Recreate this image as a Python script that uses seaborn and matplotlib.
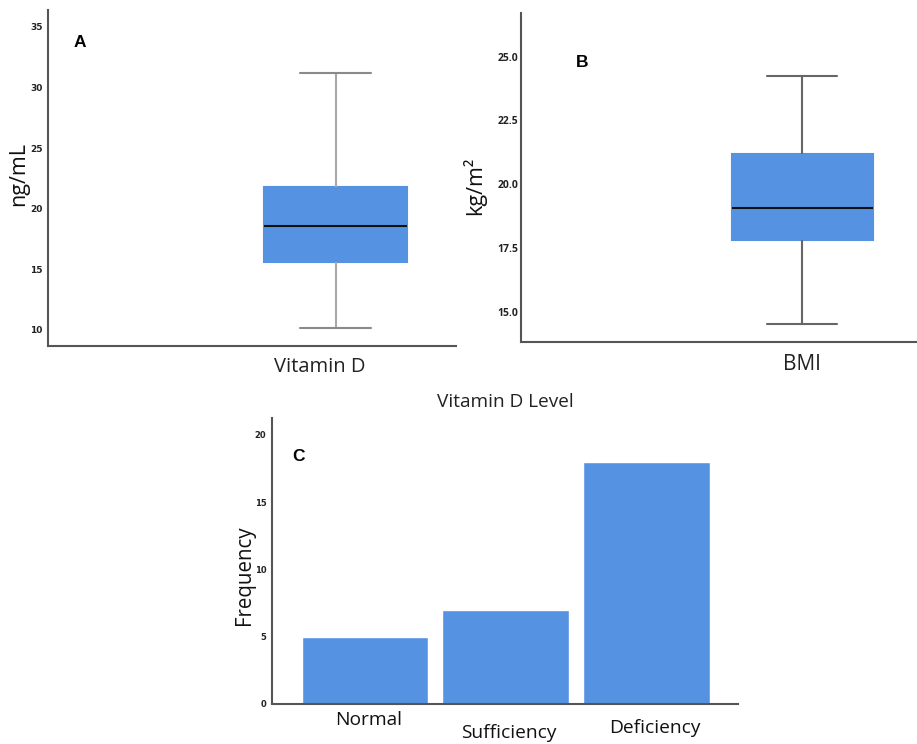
import matplotlib
matplotlib.use("Agg")
import matplotlib.pyplot as plt
import matplotlib.transforms as mtransforms
import seaborn as sns

# Box plot summaries (min, Q1, median, Q3, max)
vitd_label = "Vitamin D"
vitd_values = [10.2, 15.6, 18.6, 21.8, 31.2]
vitd_ticks = [10, 15, 20, 25, 30, 35]

bmi_label = "BMI"
bmi_values = [14.5, 17.8, 19.05, 21.2, 24.25]
bmi_ticks = [15.0, 17.5, 20.0, 22.5, 25.0]

# Frequency of vitamin D levels
levels = ["Normal", "Sufficiency", "Deficiency"]
counts = [5, 7, 18]
freq_ticks = [0, 5, 10, 15, 20]

BLUE = "#5593e2"
SPINE = "#555555"
TEXT = "#111111"

sns.set_theme(style="white")
plt.rcParams['font.family'] = ['Open Sans', 'DejaVu Sans']

fig = plt.figure(figsize=(9.17, 7.44), dpi=100)


def offset(dx, dy):
    return mtransforms.ScaledTranslation(dx / fig.dpi, dy / fig.dpi, fig.dpi_scale_trans)


def style_axes(ax):
    sns.despine(ax=ax)
    for side in ["left", "bottom"]:
        ax.spines[side].set_color(SPINE)
        ax.spines[side].set_linewidth(1.5)
    ax.tick_params(length=0)


# Panel A
axA = fig.add_axes([0.0523, 0.535, 0.445, 0.4516])
sns.boxplot(x=[vitd_label] * len(vitd_values), y=vitd_values, color=BLUE, width=0.7,
            whis=(0, 100), ax=axA, linewidth=1.5,
            boxprops=dict(facecolor=BLUE, edgecolor=BLUE),
            medianprops=dict(color=TEXT),
            whiskerprops=dict(color="#a8a8a8"),
            capprops=dict(color="#8a8a8a"))
axA.set_xlim(-1.408, 0.589)
axA.set_ylim(8.68, 36.4)
axA.set_yticks(vitd_ticks)
axA.set_yticklabels([str(t) for t in vitd_ticks], fontsize=6.5, fontweight="bold",
                    color="#222222", family=["DejaVu Sans"])
style_axes(axA)
axA.tick_params(axis="y", pad=4)
axA.tick_params(axis="x", pad=8, labelsize=14.5, labelcolor="#222222")
for lab in axA.get_xticklabels():
    lab.set_transform(lab.get_transform() + offset(-16, 0))
axA.set_ylabel("ng/mL", fontsize=15.5, color=TEXT)
axA.yaxis.label.set(va="center")
axA.yaxis.set_label_coords(-0.071, 0.512)
axA.text(0.078, 0.902, "A", transform=axA.transAxes, fontsize=12.5, fontweight="bold",
         ha="center", va="center", color="black", family=["Liberation Sans"])

# Panel B
axB = fig.add_axes([0.568, 0.5407, 0.432, 0.4418])
sns.boxplot(x=[bmi_label] * len(bmi_values), y=bmi_values, color=BLUE, width=0.7,
            whis=(0, 100), ax=axB, linewidth=1.5,
            boxprops=dict(facecolor=BLUE, edgecolor=BLUE),
            medianprops=dict(color=TEXT),
            whiskerprops=dict(color="#666666"),
            capprops=dict(color="#666666"))
axB.set_xlim(-1.396, 0.570)
axB.set_ylim(13.82, 26.71)
axB.set_yticks(bmi_ticks)
axB.set_yticklabels([f"{t:.1f}" for t in bmi_ticks], fontsize=7.5, fontweight="bold",
                    color="#222222")
style_axes(axB)
axB.tick_params(axis="y", pad=2)
axB.tick_params(axis="x", pad=9, labelsize=15, labelcolor="#222222")
axB.set_ylabel("kg/m\u00b2", fontsize=15.5, color=TEXT)
axB.yaxis.label.set(va="center")
axB.yaxis.set_label_coords(-0.119, 0.475)
axB.text(0.154, 0.85, "B", transform=axB.transAxes, fontsize=12.5, fontweight="bold",
         ha="center", va="center", color="black", family=["Liberation Sans"])

# Panel C
axC = fig.add_axes([0.2966, 0.0538, 0.508, 0.3844])
sns.barplot(x=levels, y=counts, color=BLUE, saturation=1, width=0.9, errorbar=None, ax=axC)
axC.set_xlim(-0.66, 2.65)
axC.set_ylim(0, 21.25)
axC.set_yticks(freq_ticks)
axC.set_yticklabels([str(t) for t in freq_ticks], fontsize=6, fontweight="bold",
                    color="#222222", family=["DejaVu Sans"])
style_axes(axC)
axC.tick_params(axis="y", pad=4)
axC.tick_params(axis="x", pad=5, labelsize=13.8, labelcolor=TEXT)
for lab, (dx, dy) in zip(axC.get_xticklabels(), [(4, 0), (3, -13), (9, -8)]):
    lab.set_transform(lab.get_transform() + offset(dx, dy))
axC.set_ylabel("Frequency", fontsize=14.8, color=TEXT)
axC.yaxis.label.set(va="center")
axC.yaxis.set_label_coords(-0.058, 0.451)
axC.set_title("Vitamin D Level", fontsize=13.7, color="#222222", pad=8)
axC.text(0.056, 0.864, "C", transform=axC.transAxes, fontsize=12.5, fontweight="bold",
         ha="center", va="center", color="black", family=["Liberation Sans"])

fig.savefig("out.png", dpi=100)
